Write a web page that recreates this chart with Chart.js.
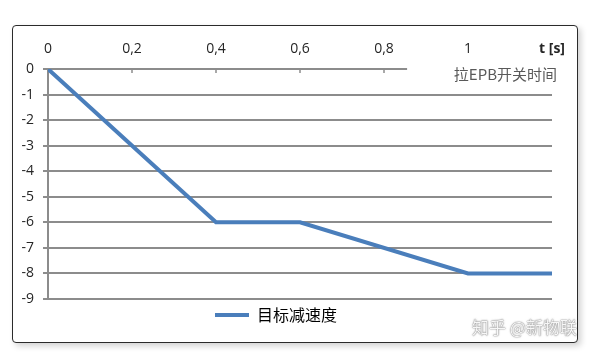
<!DOCTYPE html>
<html>
<head>
<meta charset="utf-8">
<script src="https://cdn.jsdelivr.net/npm/chart.js@4/dist/chart.umd.min.js"></script>
<style>
  html, body { margin: 0; padding: 0; background: #ffffff; }
  #wrap { position: relative; width: 598px; height: 355px; overflow: hidden; }
  #frame {
    position: absolute; left: 12px; top: 25px; width: 564px; height: 316px;
    border: 1.5px solid #2b2b2b; border-radius: 4px; background: #ffffff;
    box-shadow: 3px 3px 6px rgba(0,0,0,0.18);
  }
  canvas { position: absolute; left: 0; top: 0; }
  #wm {
    position: absolute; left: 472px; top: 314px;
    font-family: "Noto Sans CJK SC", sans-serif; font-size: 17px;
    color: rgba(255,255,255,0.95);
    text-shadow: 0 0 1px rgba(80,80,80,0.9), 0 0 2px rgba(110,110,110,0.7);
    white-space: nowrap;
  }
</style>
</head>
<body>
<div id="wrap">
  <div id="frame"></div>
  <canvas id="c" width="598" height="355"></canvas>
  <div id="wm">知乎 @新物联</div>
</div>
<script>
// ---- data ----
const timeValues   = [0, 0.4, 0.6, 1.0, 1.2];
const decelValues  = [0, -6, -6, -8, -8];
const xTickLabels  = ['0', '0,2', '0,4', '0,6', '0,8', '1', 't [s]'];
const seriesName   = '目标减速度';
const annotationText = '拉EPB开关时间';

const points = timeValues.map((t, i) => ({ x: t, y: decelValues[i] }));
const GRID = '#8c8c8c';

const overlay = {
  id: 'overlay',
  afterDraw(chart) {
    const ctx = chart.ctx;
    const xs = chart.scales.x, ys = chart.scales.y;
    const y0 = ys.getPixelForValue(0);
    // small tick marks hanging below the zero line
    ctx.save();
    ctx.strokeStyle = GRID; ctx.lineWidth = 1.5;
    [0.2, 0.4, 0.6, 0.8].forEach(v => {
      const px = xs.getPixelForValue(v);
      ctx.beginPath(); ctx.moveTo(px, y0); ctx.lineTo(px, y0 + 4); ctx.stroke();
    });
    // text box covering the end of the zero line
    const boxLeft = xs.getPixelForValue(0.855);
    ctx.fillStyle = '#ffffff';
    ctx.fillRect(boxLeft, y0 - 3, chart.chartArea.right - boxLeft + 10, 22);
    ctx.fillStyle = '#595959';
    ctx.font = '15px "Noto Sans CJK SC", sans-serif';
    ctx.textAlign = 'right'; ctx.textBaseline = 'middle';
    ctx.fillText(annotationText, chart.chartArea.right + 5, y0 + 5);
    ctx.restore();
  }
};

new Chart(document.getElementById('c'), {
  type: 'line',
  data: {
    datasets: [{
      label: seriesName,
      data: points,
      borderColor: '#4a7ebb',
      backgroundColor: '#4a7ebb',
      borderWidth: 4,
      pointRadius: 0,
      tension: 0,
      fill: false
    }]
  },
  options: {
    responsive: false,
    animation: false,
    layout: { padding: { left: 0, right: 46, top: 0, bottom: 22 } },
    scales: {
      x: {
        type: 'linear', position: 'top', min: 0, max: 1.2,
        grid: { display: false, drawTicks: false },
        border: { display: true, color: GRID, width: 2 },
        ticks: {
          stepSize: 0.2, padding: 12, maxRotation: 0, autoSkip: false,
          color: '#262626',
          font: (c) => ({ family: '"Open Sans", sans-serif', size: 14,
                          weight: (c.index === xTickLabels.length - 1) ? 'bold' : 'normal' }),
          callback: (v, i) => xTickLabels[i]
        },
        afterFit: (s) => { s.height = 69; }
      },
      y: {
        type: 'linear', min: -9, max: 0,
        grid: { color: GRID, lineWidth: 2, drawTicks: true, tickLength: 5, tickColor: GRID },
        border: { display: true, color: GRID, width: 2 },
        ticks: {
          stepSize: 1, padding: 9, color: '#262626',
          font: { family: '"Open Sans", sans-serif', size: 14 }
        },
        afterFit: (s) => { s.width = 48; }
      }
    },
    plugins: {
      legend: {
        position: 'bottom',
        labels: {
          boxWidth: 34, boxHeight: 4, padding: 8,
          color: '#595959',
          font: { family: '"Noto Sans CJK SC", sans-serif', size: 16 },
          generateLabels: (chart) => chart.data.datasets.map((d, i) => ({
            text: d.label, fillStyle: d.borderColor, strokeStyle: d.borderColor,
            lineWidth: 0, datasetIndex: i, hidden: false
          }))
        }
      },
      tooltip: { enabled: false }
    }
  },
  plugins: [overlay]
});
</script>
</body>
</html>
